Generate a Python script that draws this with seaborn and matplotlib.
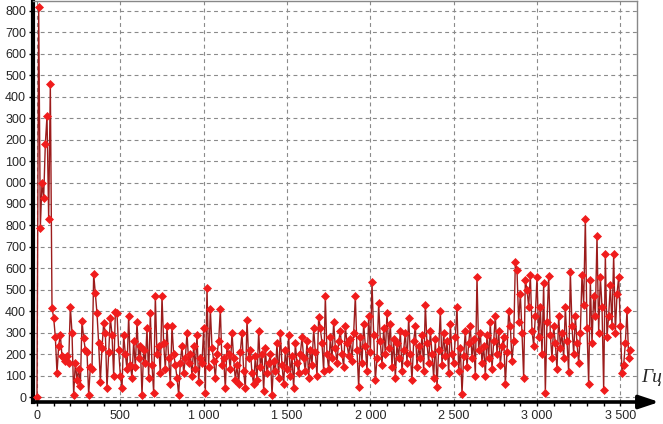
import numpy as np
import pandas as pd
import matplotlib
matplotlib.use("Agg")
import matplotlib.pyplot as plt
import seaborn as sns
from matplotlib.patches import FancyArrowPatch

# ---- data -------------------------------------------------------------
freq_step = 10
amplitudes = [
    0, 1820, 790, 1000, 930, 1180, 1310, 830, 1460, 415,
    370, 280, 110, 240, 290, 190, 180, 170, 190, 160,
    420, 300, 10, 160, 80, 130, 50, 355, 275, 220,
    210, 10, 140, 130, 575, 485, 390, 250, 70, 230,
    345, 300, 40, 210, 370, 290, 100, 395, 390, 220,
    100, 40, 290, 200, 130, 380, 150, 90, 260, 140,
    350, 180, 240, 10, 220, 160, 320, 90, 390, 150,
    20, 470, 200, 240, 110, 470, 250, 130, 330, 180,
    60, 330, 200, 150, 90, 10, 160, 240, 110, 180,
    300, 160, 200, 100, 240, 130, 290, 70, 180, 160,
    320, 20, 510, 140, 410, 230, 170, 90, 200, 260,
    410, 150, 180, 40, 240, 200, 130, 300, 180, 80,
    150, 60, 210, 300, 120, 40, 360, 180, 220, 110,
    60, 190, 80, 310, 140, 200, 30, 230, 110, 160,
    200, 10, 170, 120, 250, 90, 300, 150, 60, 220,
    130, 290, 100, 190, 40, 250, 160, 110, 200, 280,
    180, 120, 260, 90, 220, 150, 320, 210, 100, 375,
    320, 250, 120, 470, 200, 130, 280, 180, 350, 230,
    160, 260, 310, 200, 140, 330, 250, 190, 270, 170,
    300, 470, 220, 45, 280, 160, 340, 240, 120, 380,
    210, 535, 290, 80, 180, 440, 260, 150, 320, 200,
    390, 230, 340, 140, 270, 90, 250, 180, 310, 120,
    220, 300, 160, 370, 200, 80, 260, 330, 140, 240,
    180, 290, 120, 430, 250, 160, 310, 200, 90, 270,
    45, 220, 400, 150, 300, 190, 260, 110, 340, 200,
    160, 280, 420, 120, 230, 15, 190, 310, 140, 250,
    330, 180, 270, 100, 560, 220, 300, 160, 240, 100,
    290, 180, 350, 130, 260, 380, 200, 310, 150, 240,
    280, 60, 210, 400, 330, 170, 260, 630, 590, 350,
    480, 300, 90, 545, 500, 420, 570, 310, 240, 380,
    560, 280, 420, 200, 530, 20, 350, 565, 290, 180,
    330, 250, 130, 380, 230, 300, 180, 420, 260, 115,
    585, 330, 200, 380, 250, 160, 300, 570, 430, 830,
    320, 60, 545, 250, 470, 380, 750, 300, 560, 420,
    35, 665, 280, 380, 520, 330, 665, 300, 480, 560,
    330, 110, 150, 250, 405, 180, 220,
]
frequencies = [i * freq_step for i in range(len(amplitudes))]

y_ticks = list(range(0, 1801, 100))
y_tick_labels = ["0", "100", "200", "300", "400", "500", "600", "700", "800",
                 "900", "000", "100", "200", "300", "400", "500", "600",
                 "700", "800"]
x_ticks = [0, 500, 1000, 1500, 2000, 2500, 3000, 3500]
x_tick_labels = ["0", "500", "1 000", "1 500", "2 000", "2 500", "3 000", "3 500"]
unit_label = "Гц"

df = pd.DataFrame({"freq": frequencies, "amp": amplitudes})

# ---- figure -----------------------------------------------------------
sns.set_style("white")
plt.rcParams["font.family"] = ["Liberation Sans", "DejaVu Sans"]

W, H = 663, 424
fig = plt.figure(figsize=(W / 100, H / 100), dpi=100)
ax = fig.add_axes([33 / W, 22 / H, (637 - 33) / W, (H - 22 - 1) / H])

ax.set_xlim(-24, 3600)
ax.set_ylim(-23, 1846)

# grid
ax.set_axisbelow(True)
for yv in y_ticks:
    ax.axhline(yv, color="#8a8a8a", lw=0.8, ls=(0, (3.5, 3)), zorder=0)
for xv in x_ticks:
    ax.axvline(xv, color="#8a8a8a", lw=0.8, ls=(0, (3.5, 3)), zorder=0)

sns.lineplot(data=df, x="freq", y="amp", ax=ax, estimator=None, sort=False,
             color="#9c1c1c", linewidth=1.0, marker="D", markersize=4.5,
             markerfacecolor="#f01c1c", markeredgecolor="#f01c1c",
             markeredgewidth=0.5, zorder=3)

ax.set_xlabel("")
ax.set_ylabel("")
ax.set_yticks(y_ticks)
ax.set_yticklabels(y_tick_labels, fontsize=9)
ax.set_xticks(x_ticks)
ax.set_xticklabels(x_tick_labels, fontsize=9)
ax.set_xticks(list(range(100, 3600, 100)), minor=True)
ax.tick_params(axis="y", length=3, width=1, pad=2, color="black", left=True)
ax.tick_params(axis="x", which="both", length=3, width=1, pad=3,
               color="black", bottom=True, direction="out")

for s in ["top", "right"]:
    ax.spines[s].set_color("#888888")
    ax.spines[s].set_linewidth(1.0)
ax.spines["left"].set_color("black")
ax.spines["left"].set_linewidth(3)
ax.spines["bottom"].set_visible(False)

# bottom axis with arrow extending past the plot frame
arrow = FancyArrowPatch((31 / W, 1 - 402 / H), (662 / W, 1 - 402 / H),
                        transform=fig.transFigure,
                        arrowstyle="-|>,head_length=12,head_width=4",
                        mutation_scale=1, color="black", lw=2.6, zorder=10)
fig.add_artist(arrow)

fig.text(641 / W, 1 - 377 / H, unit_label, fontsize=14, style="italic",
         family=["Liberation Serif", "DejaVu Serif"], ha="left", va="center")

fig.savefig("out.png", dpi=100, facecolor="white")
